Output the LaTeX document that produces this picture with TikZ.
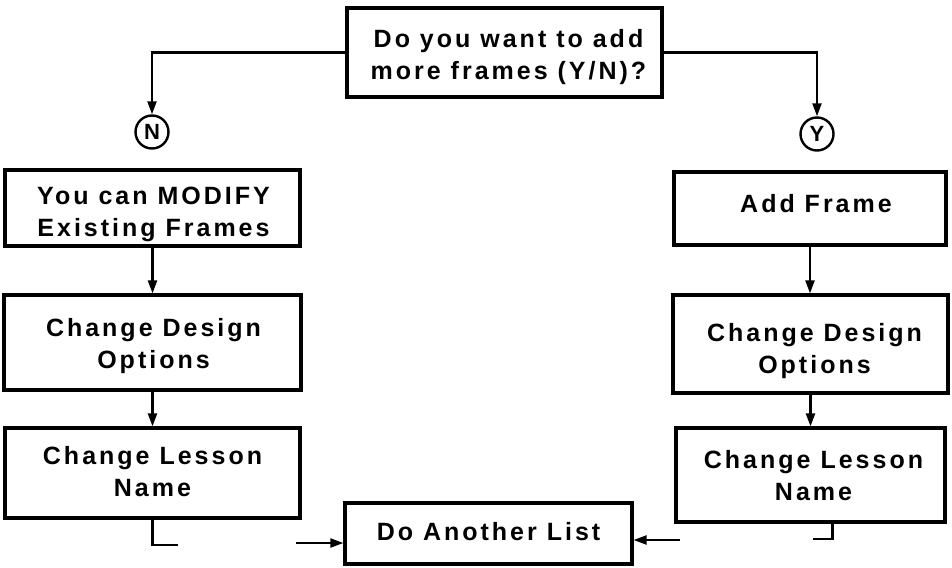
\documentclass[tikz,border=0pt]{standalone}
\usepackage{fontspec}
\setmainfont{Liberation Sans}[LetterSpace=12]
\usetikzlibrary{arrows.meta}
\setlength{\tabcolsep}{0pt}
\newcommand{\tx}[3]{\hspace*{#1}\raisebox{#2}[\height][\depth]{\begin{tabular}{c}#3\end{tabular}}}
\begin{document}
\begin{tikzpicture}[x=1pt,y=-1pt,
  box/.style={draw,line width=3.2pt,inner sep=0pt,
    font=\fontsize{25}{32}\selectfont\bfseries},
  circ/.style={draw,circle,line width=2.4pt,minimum size=33pt,inner sep=0pt,
    font=\fontsize{22}{24}\selectfont\bfseries},
  conn/.style={line width=2.2pt},
  arr/.style={conn,-{Triangle[length=13pt,width=9pt]}}]
\useasboundingbox (0,0) rectangle (952,567);
\node[box,minimum width=315pt,minimum height=89pt] (top) at (504.5,52.5) {\tx{8pt}{-5pt}{Do you want to add\\more frames (Y/N)?}};
\node[circ] (N) at (152,132) {N};
\node[circ] (Y) at (817,134) {Y};
\node[box,minimum width=295pt,minimum height=76pt] (L1) at (152.5,208) {\tx{2pt}{-6pt}{You can MODIFY\\Existing Frames}};
\node[box,minimum width=297pt,minimum height=95pt] (L2) at (152.5,342.5) {\tx{2pt}{-4pt}{Change Design\\Options}};
\node[box,minimum width=295pt,minimum height=90pt] (L3) at (152.5,473) {\tx{0pt}{-1pt}{Change Lesson\\Name}};
\node[box,minimum width=272pt,minimum height=73pt] (R1) at (810,208.5) {\tx{12pt}{2pt}{Add Frame}};
\node[box,minimum width=275pt,minimum height=98pt] (R2) at (810.5,344) {\tx{8pt}{-7pt}{Change Design\\Options}};
\node[box,minimum width=269pt,minimum height=94pt] (R3) at (810.5,475) {\tx{6pt}{-3pt}{Change Lesson\\Name}};
\node[box,minimum width=287pt,minimum height=61pt] (D) at (488.5,533.5) {\tx{0pt}{-1pt}{Do Another List}};
\draw[arr] (top.west) -| (N.north);
\draw[arr] (top.east) -| (Y.north);
\draw[arr] (L1.south) -- (L1.south |- L2.north);
\draw[arr] (L2.south) -- (L2.south |- L3.north);
\draw[arr] (R1.south) -- (R1.south |- R2.north);
\draw[arr] (R2.south) -- (R2.south |- R3.north);
\draw[conn] (L3.south) -- ++(0,25) -- ++(25,0);
\draw[conn] (R3.south) ++(22,0) -- ++(0,15) -- ++(-20,0);
\coordinate (a1) at (296,543);
\coordinate (a2) at (680,540);
\draw[arr] (a1) -- (a1 -| D.west);
\draw[arr] (a2) -- (a2 -| D.east);
\end{tikzpicture}
\end{document}
